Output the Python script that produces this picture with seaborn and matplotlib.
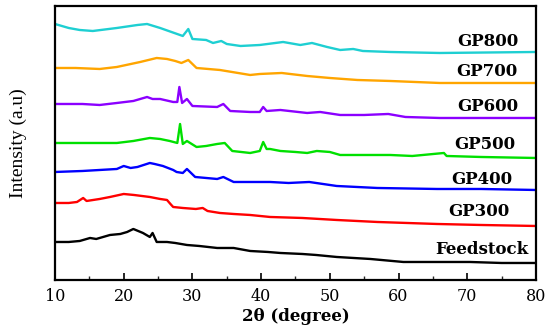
import matplotlib
matplotlib.use("Agg")
import matplotlib.pyplot as plt
import seaborn as sns
import pandas as pd
from matplotlib.ticker import MultipleLocator

# ---- data ----
names = ["Feedstock", "GP300", "GP400", "GP500", "GP600", "GP700", "GP800"]
colors = ["#000000", "#ff0000", "#0000ff", "#00e000", "#8b00ff", "#ffa500", "#1ecfd2"]

x_feed = [10, 12, 13.6, 15.1, 16, 18, 19.5, 20.5, 21.4, 22.8, 23.8, 24.2, 24.8, 26.3, 27.5, 29.2,
          31, 33.6, 36, 38.4, 41, 42.8, 46, 48, 51, 55.9, 60.7, 65, 70.4, 75, 80]
y_feed = [38, 38, 39, 42, 41, 45, 46, 48, 51, 47, 43, 47, 38, 38, 37, 35,
          34, 32, 32, 29, 28, 27, 26, 25, 23, 21, 18, 18, 18, 17, 17]

x_300 = [10, 12, 13.2, 14.1, 14.6, 16.5, 18, 20, 21.5, 23.8, 25.3, 26.3, 26.8, 27.2, 28.6, 30.5,
         31.5, 32.2, 34, 36, 38.4, 41.3, 46, 51, 56.9, 65.6, 72, 80]
y_300 = [77, 77, 78, 82, 79, 81, 83, 86, 85, 83, 81, 80, 76, 73, 72, 71,
         72, 69, 67, 66, 65, 63, 62, 60, 58, 56, 55, 54]

x_400 = [10, 14, 16.5, 19, 20, 21, 22, 23.8, 24.5, 25.7, 27.2, 27.7, 28.6, 29.2, 30.4, 33.6,
         34.5, 36, 38.4, 41.3, 44, 47, 51, 56.9, 65.6, 72, 80]
y_400 = [108, 109, 110, 111, 114, 112, 113, 117, 116, 114, 110, 108, 107, 111, 103, 101,
         103, 98, 98, 98, 97, 98, 94, 92, 91, 91, 90]

x_500 = [10, 14, 19, 21.4, 23.8, 25.3, 26.7, 27.8, 28.2, 28.6, 29.2, 30.6, 32, 33.6, 34.7, 35.8,
         38.4, 39.8, 40.3, 40.8, 41.3, 42.8, 45, 46.7, 48.1, 50, 51.5, 58.8, 62, 66.6, 67, 72, 80]
y_500 = [137, 137, 137, 139, 142, 141, 139, 137, 156, 136, 139, 133, 134, 136, 137, 129,
         127, 129, 138, 131, 131, 129, 128, 127, 129, 128, 125, 125, 124, 127, 124, 123, 122]

x_600 = [10, 14, 16.5, 19, 21.4, 23.4, 24.2, 25.3, 27.2, 27.8, 28.1, 28.5, 29.2, 30, 33.6, 34.5,
         35.5, 38.4, 39.8, 40.3, 40.8, 42.8, 46.7, 48.6, 51.5, 55, 58.5, 61, 66, 80]
y_600 = [176, 176, 175, 177, 179, 183, 181, 181, 178, 178, 193, 177, 181, 174, 173, 176,
         169, 168, 168, 173, 169, 170, 167, 168, 165, 165, 166, 163, 162, 162]

x_700 = [10, 13, 16.5, 19, 22.4, 24.8, 26.3, 27.5, 28.4, 29.4, 30.6, 34, 38.4, 39.8, 43, 46.7,
         50, 54, 58.8, 66, 80]
y_700 = [212, 212, 211, 213, 218, 222, 221, 219, 217, 220, 212, 210, 205, 206, 207, 204,
         202, 200, 199, 197, 197]

x_800 = [10, 12, 13.6, 15.5, 19, 22, 23.4, 25.3, 28.6, 29.4, 30, 32, 33, 34.2, 35, 37,
         39.8, 43.2, 45.7, 47.4, 49.6, 51.5, 53.4, 54.8, 58.8, 66, 80]
y_800 = [256, 252, 250, 249, 252, 255, 256, 252, 244, 251, 241, 240, 237, 239, 236, 234,
         235, 238, 235, 237, 233, 230, 231, 229, 228, 227, 228]

xs = [x_feed, x_300, x_400, x_500, x_600, x_700, x_800]
ys = [y_feed, y_300, y_400, y_500, y_600, y_700, y_800]

frames = []
for n, x, y in zip(names, xs, ys):
    frames.append(pd.DataFrame({"theta": x, "intensity": y, "sample": n}))
df = pd.concat(frames, ignore_index=True)

# ---- figure ----
sns.set_style("white")
plt.rcParams["font.family"] = ["DejaVu Serif"]

fig = plt.figure(figsize=(5.5, 3.29), dpi=100)
ax = fig.add_axes([0.1, 0.149, 0.8745, 0.8328])

sns.lineplot(data=df, x="theta", y="intensity", hue="sample", hue_order=names,
             palette=dict(zip(names, colors)), linewidth=1.7, legend=False,
             estimator=None, sort=False, ax=ax)

ax.set_xlim(10, 80)
ax.set_ylim(0, 274)
ax.set_yticks([])
ax.xaxis.set_major_locator(MultipleLocator(10))
ax.xaxis.set_minor_locator(MultipleLocator(5))
ax.tick_params(axis="x", which="major", direction="in", length=5, width=1.2,
               labelsize=11.5, pad=6, bottom=True, top=False, colors="black")
ax.tick_params(axis="x", which="minor", direction="in", length=3, width=1.0,
               bottom=True, top=False)
for s in ax.spines.values():
    s.set_linewidth(1.6)
    s.set_color("black")

ax.set_xlabel("2θ (degree)", fontsize=12, fontweight="bold", labelpad=2, color="black")
ax.set_ylabel("Intensity (a.u)", fontsize=14, family=["Liberation Serif"], labelpad=20,
              color="black")

label_pos = {"Feedstock": (78.85, 30), "GP300": (76.2, 68), "GP400": (76.5, 100),
             "GP500": (77.0, 135), "GP600": (77.4, 173), "GP700": (77.25, 208),
             "GP800": (77.4, 238)}
for n in names:
    px, py = label_pos[n]
    ax.text(px, py, n, ha="right", va="center", fontsize=12, fontweight="bold",
            color="black")

fig.savefig("out.png", dpi=100)
